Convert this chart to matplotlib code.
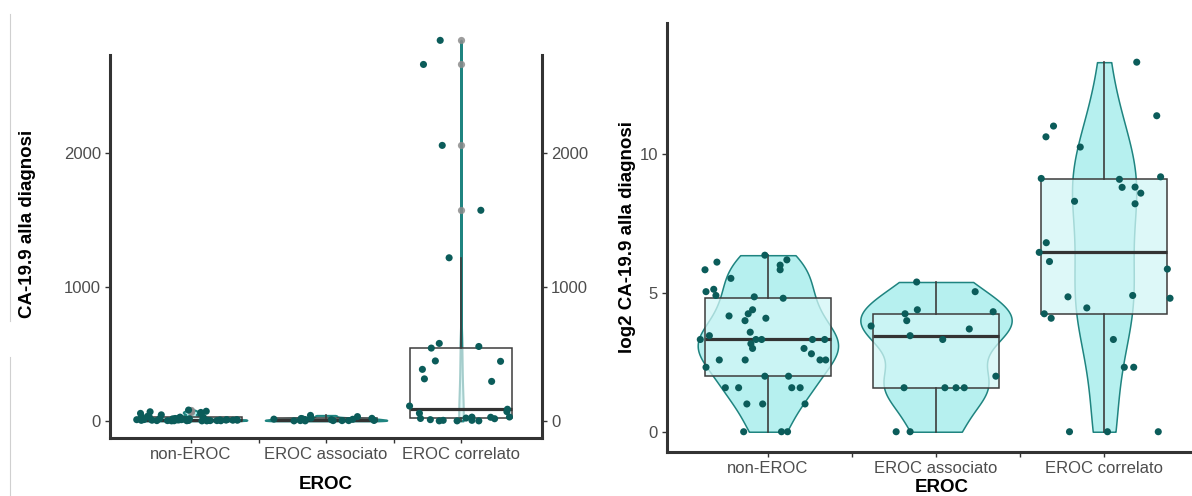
import numpy as np
import matplotlib
matplotlib.use('Agg')
import matplotlib.pyplot as plt
from matplotlib.lines import Line2D
from matplotlib.colors import to_rgba

plt.rcParams['font.family'] = ['Liberation Sans', 'DejaVu Sans']

## DATA (CA-19.9 at diagnosis)
groups = ['non-EROC', 'EROC associato', 'EROC correlato']

non_eroc = [82, 73, 64, 57, 69, 57, 46, 33, 35, 30, 29, 28, 21, 19, 18, 16, 17, 12, 10, 11,
            10, 10, 9, 8, 10, 10, 8, 7, 6, 6, 6, 6, 5, 4, 4, 3, 3, 3, 3, 2, 2, 2, 1, 1, 1]
associato = [42, 33, 21, 19, 16, 20, 14, 13, 11, 10, 4, 3, 3, 3, 3, 1, 1]
correlato = [10150, 2665, 2060, 1575, 1220, 557, 545, 580, 446, 449, 386, 315, 296, 112, 88,
             70, 58, 29, 30, 28, 22, 19, 17, 10, 5, 5, 1, 1, 1]

# jitter offsets (category units), as seen in the picture
non_eroc_jit = [-0.018, 0.113, 0.073, 0.073, -0.303, -0.374, -0.220, -0.368, -0.322, -0.309,
                -0.081, 0.091, -0.091, -0.117, -0.231, -0.136, -0.012, -0.105, -0.402, -0.348,
                -0.071, -0.037, -0.101, -0.091, 0.265, 0.338, 0.215, 0.259, -0.289, -0.135,
                0.310, 0.344, -0.368, -0.018, 0.123, -0.253, -0.174, 0.142, 0.192, -0.125,
                -0.031, 0.221, -0.144, 0.081, 0.117]
associato_jit = [-0.115, 0.233, -0.111, -0.184, -0.174, 0.340, -0.386, 0.198, -0.154, 0.040,
                 0.356, -0.190, 0.053, 0.119, 0.168, -0.237, -0.154]
correlato_jit = [0.194, 0.313, -0.301, -0.346, -0.142, -0.374, 0.091, 0.336, 0.107, 0.184,
                 0.218, -0.176, 0.184, -0.344, -0.386, -0.325, 0.376, -0.215, 0.170, 0.392,
                 -0.103, -0.356, -0.315, 0.055, 0.120, 0.176, -0.206, 0.020, 0.322]
correlato_jit_left = [-0.154, -0.278, -0.139, 0.147, -0.088, 0.132, -0.220, -0.161, 0.293, -0.190,
                      -0.286, -0.271, 0.227, -0.381, 0.344, 0.340, -0.308, 0.081, 0.359, 0.220,
                      0.037, -0.300, 0.249, -0.227, -0.132, 0.081, -0.029, -0.161, 0.132]

left_cap = 2845  # values above are squished onto the top of the left scale

TEAL = '#1f8480'
VIOLIN = '#b6f0ef'
PT = '#0b5c5a'
DARK = '#333333'
GREY_TXT = '#4d4d4d'


def kde(v):
    v = np.asarray(v, float)
    sd = v.std(ddof=1)
    q75, q25 = np.percentile(v, [75, 25])
    lo = min(sd, (q75 - q25) / 1.34) or sd
    bw = 0.9 * lo * len(v) ** -0.2
    grid = np.linspace(v.min(), v.max(), 512)
    d = np.exp(-0.5 * ((grid[:, None] - v[None, :]) / bw) ** 2).sum(1) / (len(v) * bw * np.sqrt(2 * np.pi))
    return grid, d


def panel(ax, sets, jits, box_face, fliers, violin_lw):
    dens = [kde(s) for s in sets]
    dmax = max(d.max() for _, d in dens)
    for i, (g, d) in enumerate(dens):
        hw = 0.45 * d / dmax
        ax.fill_betweenx(g, i + 1 - hw, i + 1 + hw, facecolor=VIOLIN, edgecolor=TEAL,
                         lw=violin_lw, zorder=1)
    ax.boxplot(sets, positions=[1, 2, 3], widths=0.75, whis=1.5, patch_artist=True,
               showcaps=False, showfliers=fliers, manage_ticks=False, zorder=2,
               boxprops=dict(facecolor=box_face, edgecolor='#3c3c3c', linewidth=1.1),
               whiskerprops=dict(color='#3c3c3c', linewidth=1.2),
               medianprops=dict(color=DARK, linewidth=2.3),
               flierprops=dict(marker='o', markerfacecolor='#8c8c8c', markeredgecolor='none',
                               markersize=5.2, alpha=0.85))
    for i, (s, j) in enumerate(zip(sets, jits)):
        ax.scatter(i + 1 + np.array(j), s, s=26, color=PT, edgecolors='none', zorder=3)

    ax.set_xlim(0.4, 3.6)
    ax.set_xticks([1, 2, 3])
    ax.set_xticklabels(groups)
    ax.set_xticks([1.5, 2.5], minor=True)
    for sp in ['left', 'bottom', 'right']:
        ax.spines[sp].set_linewidth(2.2)
        ax.spines[sp].set_color(DARK)
    ax.spines['top'].set_visible(False)
    ax.tick_params(axis='both', which='both', length=3.5, width=1, color=DARK,
                   labelsize=12, labelcolor=GREY_TXT, pad=3)
    ax.set_facecolor('none')


def labels(ax, xpos, ypos):
    ax.xaxis.label.set_va('center')
    ax.xaxis.set_label_coords(*xpos)
    ax.yaxis.label.set_va('center')
    ax.yaxis.label.set_ha('center')
    ax.yaxis.set_label_coords(*ypos)


fig = plt.figure(figsize=(11.92, 4.96), dpi=100)

## LEFT: raw values
ax1 = fig.add_axes([110 / 1192, 1 - 438 / 496, 432 / 1192, 405 / 496])
left_sets = [np.minimum(non_eroc, left_cap), np.minimum(associato, left_cap), np.minimum(correlato, left_cap)]
panel(ax1, left_sets, [non_eroc_jit, associato_jit, correlato_jit_left], to_rgba('white', 0.6), True, 1.5)
ax1.set_ylim(-127, 2900)
ax1.set_yticks([0, 1000, 2000])
ax1.spines['left'].set_bounds(-127, 2735)
ax1.spines['right'].set_bounds(-127, 2735)
ax1.tick_params(axis='y', right=True, labelright=True)
ax1.set_ylabel('CA-19.9 alla diagnosi', fontsize=13.5, fontweight='bold')
ax1.set_xlabel('EROC', fontsize=13.5, fontweight='bold')
labels(ax1, (0.5, -0.116), (-0.192, 0.528))

## RIGHT: log2 values
ax2 = fig.add_axes([667 / 1192, 1 - 452 / 496, 538 / 1192, 429 / 496])
right_sets = [np.log2(non_eroc), np.log2(associato), np.log2(correlato)]
panel(ax2, right_sets, [non_eroc_jit, associato_jit, correlato_jit], to_rgba('#d2f6f6', 0.75), False, 1.1)
ax2.set_ylim(-0.73, 14.72)
ax2.set_yticks([0, 5, 10])
ax2.spines['right'].set_visible(False)
ax2.set_ylabel('log2 CA-19.9 alla diagnosi', fontsize=13.5, fontweight='bold')
ax2.set_xlabel('EROC', fontsize=13.5, fontweight='bold')
labels(ax2, (0.511, -0.082), (-0.0743, 0.502))

# faint screenshot borders on the far left
fig.add_artist(Line2D([9.5 / 1192] * 2, [1 - 14 / 496, 1 - 321 / 496], color='#d0d0d0', lw=0.8))
fig.add_artist(Line2D([9.5 / 1192] * 2, [1 - 357 / 496, 0], color='#d0d0d0', lw=0.8))

fig.savefig('out.png', dpi=100)
